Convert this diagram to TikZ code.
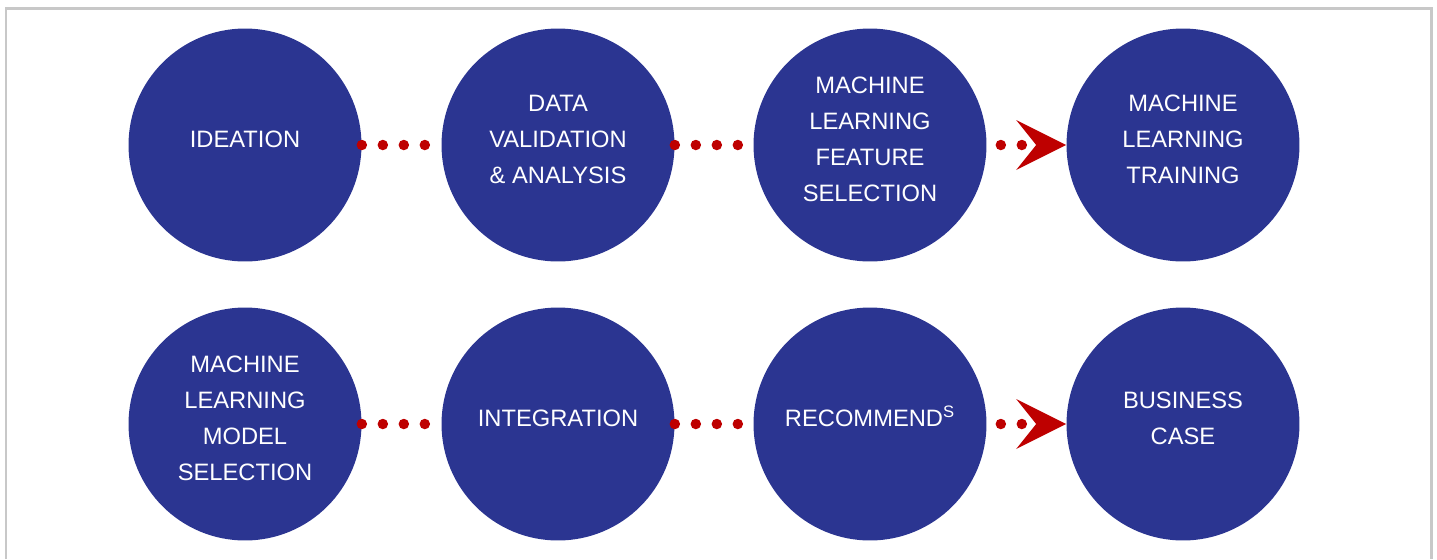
\documentclass[tikz,border=0pt]{standalone}
\usepackage{fontspec}
\setmainfont{Liberation Sans}
\usepackage{xcolor}
\usetikzlibrary{arrows.meta,positioning}
\definecolor{stepblue}{RGB}{43,53,145}
\definecolor{dotred}{RGB}{190,0,0}
\definecolor{framegrey}{RGB}{200,200,200}

\begin{document}
\begin{tikzpicture}[x=0.02cm, y=-0.02cm]
	\tikzstyle{stage}=[circle, fill=stepblue, minimum size=4.66cm, inner sep=0pt, text depth=0.24cm, text=white, align=center, font=\fontsize{13.5}{20.5}\selectfont]
	\tikzstyle{dotlink}=[dotred, line width=0.21cm, line cap=round, dash pattern=on 0pt off 0.42cm]
	\tikzstyle{dotarrow}=[dotlink, dash phase=0.14cm, -{Stealth[length=1cm, width=1cm, inset=0.4cm, line width=0pt]}]
	\useasboundingbox (0,0) rectangle (1437,559);
	\draw [framegrey, line width=0.05cm] (6,559) -- (6,8.5) -- (1431.5,8.5) -- (1431.5,559);
	% first row
	\node [stage] (ideation) at (245,145) {IDEATION};
	\node [stage] (validation) at (558,145) {DATA\\VALIDATION\\\& ANALYSIS};
	\node [stage] (feature) at (870,145) {MACHINE\\LEARNING\\FEATURE\\SELECTION};
	\node [stage] (training) at (1183,145) {MACHINE\\LEARNING\\TRAINING};
	% second row
	\node [stage] (modelsel) at (245,424) {MACHINE\\LEARNING\\MODEL\\SELECTION};
	\node [stage] (integration) at (558,424) {INTEGRATION};
	\node [stage] (recommend) at (870,424) {RECOMMEND\smash{\textsuperscript{S}}};
	\node [stage] (business) at (1183,424) {BUSINESS\\CASE};
	% links
	\draw [dotlink] (ideation) -- (validation);
	\draw [dotlink] (validation) -- (feature);
	\draw [dotarrow] (feature) -- (training);
	\draw [dotlink] (modelsel) -- (integration);
	\draw [dotlink] (integration) -- (recommend);
	\draw [dotarrow] (recommend) -- (business);
\end{tikzpicture}
\end{document}
